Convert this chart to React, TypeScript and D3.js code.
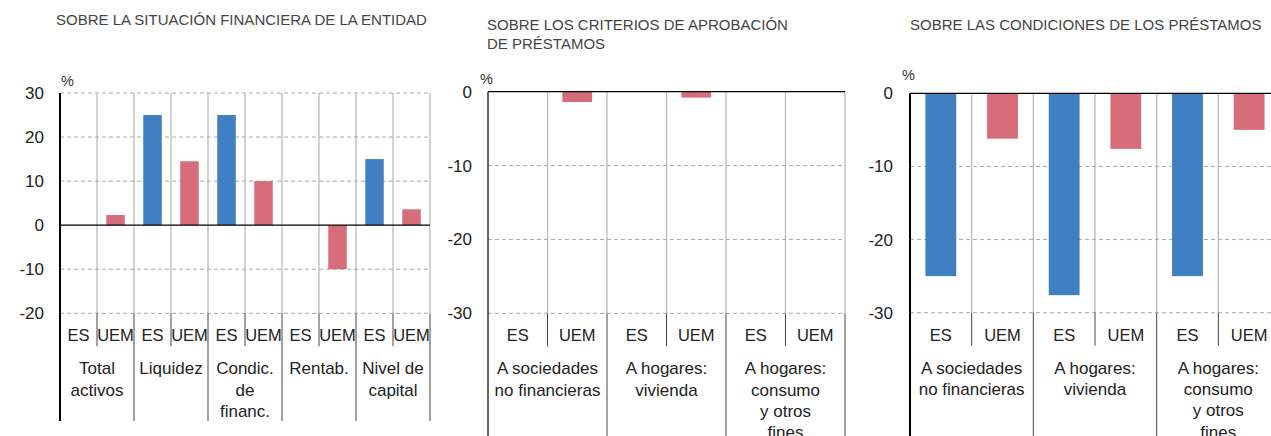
import React from "react";
import * as d3 from "d3";

// ---------- DATA ----------
const seriesNames = ["ES", "UEM"];

const p1Title = ["SOBRE LA SITUACIÓN FINANCIERA DE LA ENTIDAD"];
const p1Groups = ["Total\nactivos", "Liquidez", "Condic.\nde\nfinanc.", "Rentab.", "Nivel de\ncapital"];
const p1ES = [0, 25, 25, 0, 15];
const p1UEM = [2.3, 14.5, 10, -10, 3.6];
const p1Ticks = [30, 20, 10, 0, -10, -20];

const p2Title = ["SOBRE LOS CRITERIOS DE APROBACIÓN", "DE PRÉSTAMOS"];
const p2Groups = ["A sociedades\nno financieras", "A hogares:\nvivienda", "A hogares:\nconsumo\ny otros\nfines"];
const p2ES = [0, 0, 0];
const p2UEM = [-1.4, -0.8, 0];
const p2Ticks = [0, -10, -20, -30];

const p3Title = ["SOBRE LAS CONDICIONES DE LOS PRÉSTAMOS"];
const p3Groups = ["A sociedades\nno financieras", "A hogares:\nvivienda", "A hogares:\nconsumo\ny otros\nfines"];
const p3ES = [-25, -27.6, -25];
const p3UEM = [-6.2, -7.6, -5.0];
const p3Ticks = [0, -10, -20, -30];

const BLUE = "#4080C2";
const PINK = "#D76C7B";
const FONT = "'Liberation Sans', Arial, Helvetica, sans-serif";

type PanelProps = {
  title: string[];
  titleX: number;
  titleY: number;
  groups: string[];
  es: number[];
  uem: number[];
  ticks: number[];
  domain: [number, number];
  left: number;
  right: number;
  top: number;
  bottom: number;
  pctX: number;
  pctY: number;
  tickRight: number;
  groupLineBottom: number;
  axisWidth: number;
};

function Panel(p: PanelProps) {
  const y = d3.scaleLinear().domain(p.domain).range([p.bottom, p.top]);
  const cols: string[] = [];
  p.groups.forEach((g, i) => seriesNames.forEach((s) => cols.push(i + "|" + s)));
  const x = d3.scaleBand<string>().domain(cols).range([p.left, p.right]).paddingInner(0).paddingOuter(0);
  const bw = x.bandwidth();
  const gx = d3.scaleBand<number>().domain(p.groups.map((_, i) => i)).range([p.left, p.right]);
  const innerBottom = p.bottom + 33;

  const bars: { key: string; v: number; color: string }[] = [];
  p.groups.forEach((_, i) => {
    bars.push({ key: i + "|ES", v: p.es[i], color: BLUE });
    bars.push({ key: i + "|UEM", v: p.uem[i], color: PINK });
  });

  return (
    <g>
      {p.title.map((t, i) => (
        <text key={i} x={p.titleX} y={p.titleY + i * 19} fontSize={15} fill="#444" fontFamily={FONT}>
          {t}
        </text>
      ))}
      <text x={p.pctX} y={p.pctY} fontSize={14.5} fill="#333" fontFamily={FONT}>%</text>
      {/* vertical separators inside plot */}
      {cols.map((c, i) =>
        i === 0 ? null : (
          <line key={"v" + c} x1={x(c)!} x2={x(c)!} y1={p.top} y2={p.bottom} stroke="#b5b5b5" strokeWidth={1.2} />
        )
      )}
      <line x1={p.right} x2={p.right} y1={p.top} y2={p.bottom} stroke="#b5b5b5" strokeWidth={1.2} />
      {/* horizontal grid */}
      {p.ticks.map((t) =>
        t === 0 ? null : (
          <line key={"h" + t} x1={p.left} x2={p.right} y1={y(t)} y2={y(t)} stroke="#a8a8a8" strokeWidth={1} strokeDasharray="4,3" />
        )
      )}
      {/* bars */}
      {bars.map((b) =>
        b.v === 0 ? null : (
          <rect
            key={"b" + b.key}
            x={x(b.key)! + bw * 0.25}
            width={bw * 0.5}
            y={Math.min(y(b.v), y(0))}
            height={Math.abs(y(b.v) - y(0))}
            fill={b.color}
          />
        )
      )}
      {/* zero line */}
      <line x1={p.left} x2={p.right} y1={y(0)} y2={y(0)} stroke="#000" strokeWidth={1.2} />
      {/* left axis */}
      <line x1={p.left} x2={p.left} y1={p.top} y2={p.groupLineBottom} stroke="#000" strokeWidth={p.axisWidth} />
      {/* tick labels */}
      {p.ticks.map((t) => (
        <text key={"t" + t} x={p.tickRight} y={y(t) + 6} textAnchor="end" fontSize={17} fill="#222" fontFamily={FONT}>
          {t}
        </text>
      ))}
      {/* lines below plot */}
      {cols.map((c, i) => {
        if (i === 0) return null;
        const isGroup = i % 2 === 0;
        return (
          <line
            key={"u" + c}
            x1={x(c)!}
            x2={x(c)!}
            y1={p.bottom}
            y2={isGroup ? p.groupLineBottom : innerBottom}
            stroke="#444"
            strokeWidth={1}
          />
        );
      })}
      <line x1={p.right} x2={p.right} y1={p.bottom} y2={p.groupLineBottom} stroke="#444" strokeWidth={1} />
      {/* series labels */}
      {cols.map((c) => (
        <text key={"s" + c} x={x(c)! + bw / 2} y={p.bottom + 28} textAnchor="middle" fontSize={16.5} fill="#222" fontFamily={FONT}>
          {c.split("|")[1]}
        </text>
      ))}
      {/* group labels */}
      {p.groups.map((g, i) =>
        g.split("\n").map((line, j) => (
          <text
            key={"g" + i + "_" + j}
            x={gx(i)! + gx.bandwidth() / 2}
            y={p.bottom + 61 + j * 21.3}
            textAnchor="middle"
            fontSize={17}
            fill="#222"
            fontFamily={FONT}
          >
            {line}
          </text>
        ))
      )}
    </g>
  );
}

export default function App() {
  return (
    <svg width={1271} height={436} style={{ position: "absolute", left: 0, top: 0, background: "#fff" }}>
      <rect width={1271} height={436} fill="#fff" />
      <Panel
        title={p1Title}
        titleX={56}
        titleY={25}
        groups={p1Groups}
        es={p1ES}
        uem={p1UEM}
        ticks={p1Ticks}
        domain={[-20, 30]}
        left={60}
        right={430}
        top={93}
        bottom={313.3}
        pctX={61}
        pctY={86}
        tickRight={44}
        groupLineBottom={421}
        axisWidth={2}
      />
      <Panel
        title={p2Title}
        titleX={487}
        titleY={30}
        groups={p2Groups}
        es={p2ES}
        uem={p2UEM}
        ticks={p2Ticks}
        domain={[-30, 0]}
        left={488}
        right={845}
        top={91.7}
        bottom={313.3}
        pctX={480}
        pctY={84}
        tickRight={472}
        groupLineBottom={440}
        axisWidth={1.2}
      />
      <Panel
        title={p3Title}
        titleX={910}
        titleY={30}
        groups={p3Groups}
        es={p3ES}
        uem={p3UEM}
        ticks={p3Ticks}
        domain={[-30, 0]}
        left={910}
        right={1280}
        top={93.3}
        bottom={312.7}
        pctX={902}
        pctY={80}
        tickRight={893}
        groupLineBottom={440}
        axisWidth={2}
      />
    </svg>
  );
}
